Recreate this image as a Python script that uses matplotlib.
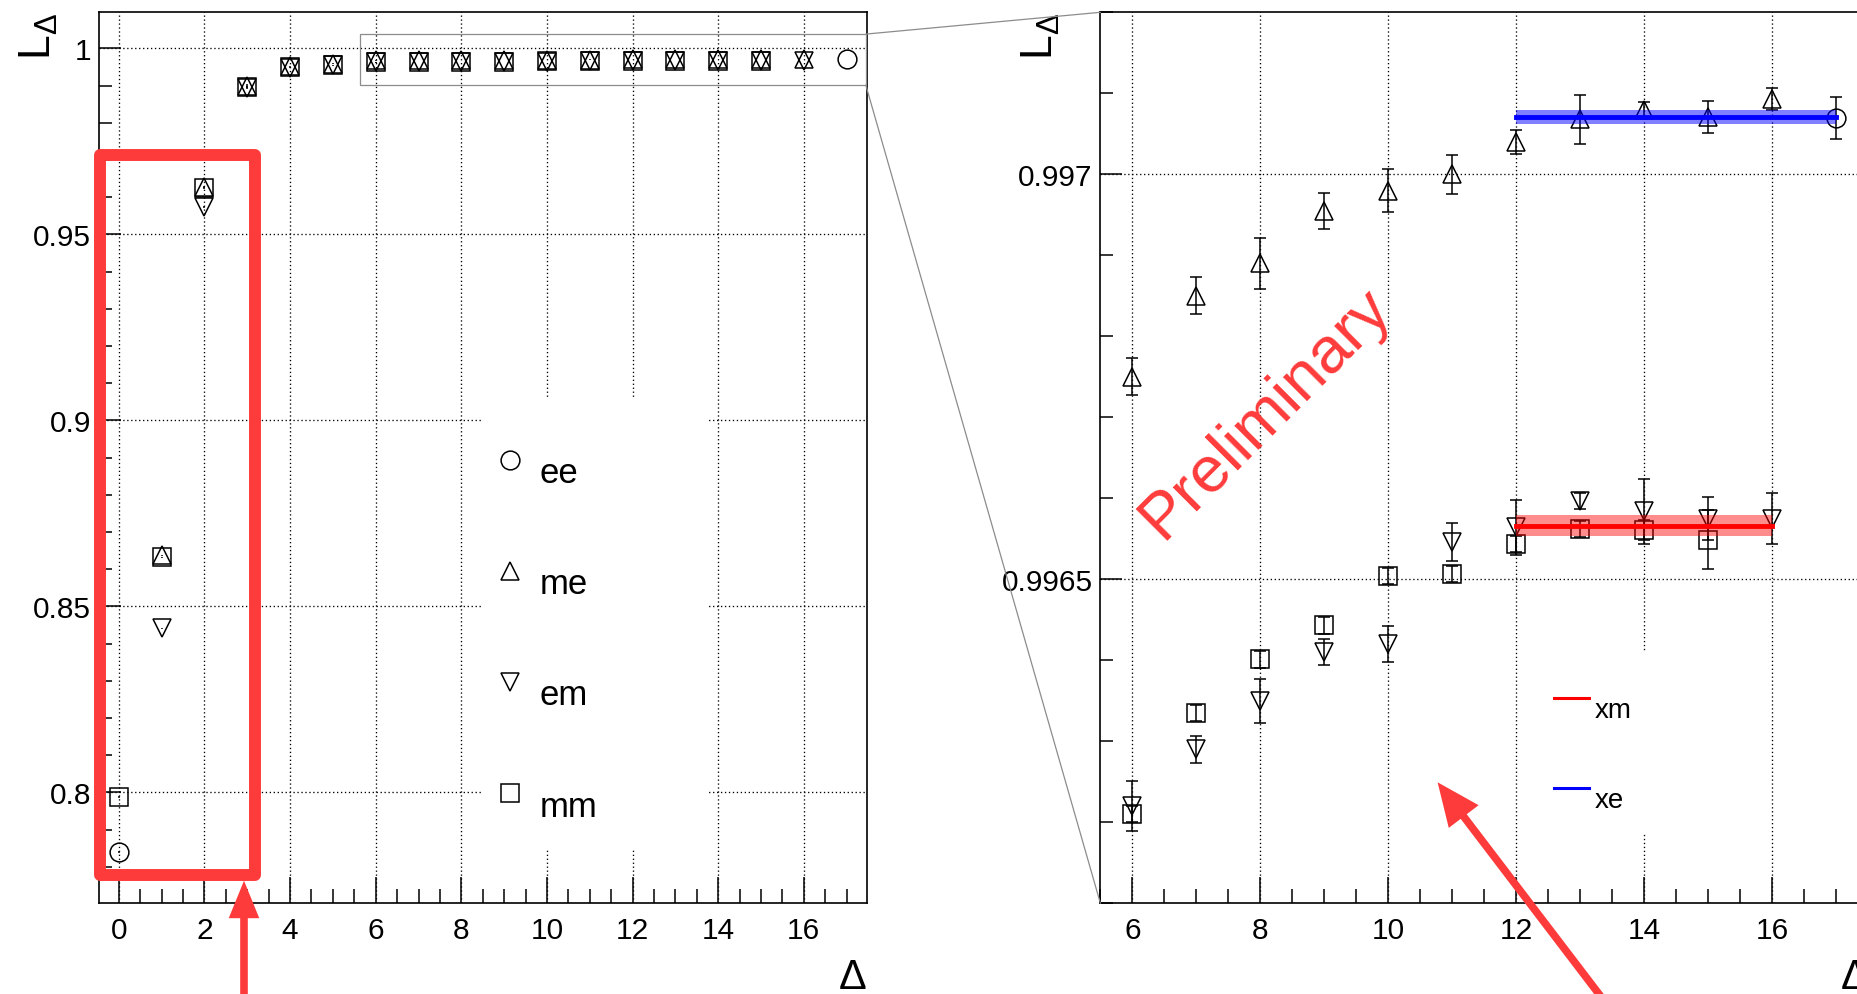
import numpy as np
import matplotlib.pyplot as plt
from matplotlib.ticker import MultipleLocator, FuncFormatter
from matplotlib.patches import Rectangle, ConnectionPatch, FancyArrowPatch
from matplotlib.lines import Line2D

plt.rcParams["font.family"] = ["Liberation Sans", "DejaVu Sans"]
plt.rcParams["mathtext.fontset"] = "custom"
plt.rcParams["mathtext.rm"] = "Liberation Sans"
plt.rcParams["mathtext.it"] = "Liberation Sans:italic"

# L_Delta versus Delta for the four channels
ee_x = [0, 17]
ee_y = [0.7840, 0.99707]
ee_err = [0.0002, 0.000026]

me_x = list(range(1, 17))
me_y = [0.8637, 0.9628, 0.9900, 0.9952, 0.9959, 0.99675, 0.99685, 0.99689,
        0.996955, 0.99698, 0.99700, 0.99704, 0.997068, 0.997079, 0.997071, 0.997093]
me_err = [0.0002, 0.0003, 0.0003, 0.0001, 0.00005, 0.000023, 0.000023, 0.000031,
          0.000022, 0.000026, 0.000024, 0.000015, 0.000030, 0.000010, 0.000020, 0.000013]

em_x = list(range(1, 17))
em_y = [0.8441, 0.9573, 0.9893, 0.9948, 0.9954, 0.99622, 0.99629, 0.99635,
        0.99641, 0.99642, 0.996546, 0.996564, 0.996597, 0.996584, 0.996575, 0.996575]
em_err = [0.0002, 0.0003, 0.0003, 0.0001, 0.00005, 0.000031, 0.000017, 0.000027,
          0.000016, 0.000022, 0.000023, 0.000034, 0.000010, 0.000040, 0.000026, 0.000031]

mm_x = list(range(0, 16))
mm_y = [0.7988, 0.8632, 0.9625, 0.9897, 0.9950, 0.9956, 0.99621, 0.996335,
        0.996401, 0.996443, 0.996504, 0.996507, 0.996544, 0.996562, 0.996561, 0.996549]
mm_err = [0.0002, 0.0002, 0.0003, 0.0003, 0.0001, 0.00005, 0.000010, 0.000010,
          0.000010, 0.000010, 0.000010, 0.000010, 0.000010, 0.000010, 0.000012, 0.000036]

labels = ["ee", "me", "em", "mm"]

# constant fits on the plateau
xm_range = [12, 16]
xm_val = 0.996566
xm_err = 0.0000128
xe_range = [12, 17]
xe_val = 0.997071
xe_err = 0.0000086

RED = "#fe3b3b"
W, H = 1857, 995

fig = plt.figure(figsize=(W / 100, H / 100), dpi=100)
ax1 = fig.add_axes([98.7 / W, 90.7 / H, 768.1 / W, 891 / H])
ax2 = fig.add_axes([1100.4 / W, 90.7 / H, 768.1 / W, 891 / H])


def draw_series(ax, cap):
    handles = []
    series = [(ee_x, ee_y, ee_err, "o"), (me_x, me_y, me_err, "^"),
              (em_x, em_y, em_err, "v"), (mm_x, mm_y, mm_err, "s")]
    for xs, ys, es, m in series:
        c = ax.errorbar(xs, ys, yerr=es, fmt=m, ms=13.5, mfc="none", mec="black",
                        mew=1.1, ecolor="black", elinewidth=1.1, capsize=cap,
                        capthick=1.1, zorder=3)
        handles.append(c[0])
    return handles


def style_axes(ax, xlim, ylim, ymajor, yminor):
    ax.set_xlim(*xlim)
    ax.set_ylim(*ylim)
    ax.xaxis.set_major_locator(MultipleLocator(2))
    ax.xaxis.set_minor_locator(MultipleLocator(0.5))
    ax.yaxis.set_major_locator(MultipleLocator(ymajor))
    ax.yaxis.set_minor_locator(MultipleLocator(yminor))
    ax.yaxis.set_major_formatter(FuncFormatter(lambda v, p: f"{v:g}"))
    ax.tick_params(which="both", direction="in", top=False, right=False,
                   width=1.1, labelsize=21.5)
    ax.tick_params(axis="x", which="major", length=18.5, pad=9.5)
    ax.tick_params(axis="x", which="minor", length=10)
    ax.tick_params(axis="y", which="major", length=16, pad=5.5)
    ax.tick_params(axis="y", which="minor", length=9)
    for s in ax.spines.values():
        s.set_linewidth(1.2)
    ax.grid(which="major", color="black", linestyle=(0, (1, 2)), linewidth=0.95)
    ax.set_xlabel("Δ", fontsize=30, loc="right")
    ax.xaxis.set_label_coords(1.0, -0.060)
    ax.set_ylabel(r"L$_{\Delta}$", fontsize=32, loc="top")
    ax.yaxis.set_label_coords(-0.050, 1.0)


# left: full range
handles = draw_series(ax1, 0)
style_axes(ax1, (-0.47, 17.47), (0.7702, 1.0097), 0.05, 0.01)
ax1.add_patch(Rectangle((0.499, 0.061), 0.293, 0.505, transform=ax1.transAxes,
                        facecolor="white", edgecolor="none", zorder=1.8))
leg = ax1.legend(handles, labels, loc="upper left", bbox_to_anchor=(0.5175, 0.513),
                 frameon=False, fontsize=25, handlelength=0.8, handletextpad=0.46,
                 labelspacing=2.25, borderpad=0, borderaxespad=0)
for t in leg.get_texts():
    t.set_y(-10)

# right: plateau region with fits
draw_series(ax2, 4.5)
style_axes(ax2, (5.5, 17.5), (0.9961, 0.9972), 0.0005, 0.0001)
ax2.fill_between(xm_range, xm_val - xm_err, xm_val + xm_err, color="red",
                 alpha=0.45, lw=0, zorder=4)
ax2.plot(xm_range, [xm_val, xm_val], color="red", lw=3.5, zorder=4.1)
ax2.fill_between(xe_range, xe_val - xe_err, xe_val + xe_err, color="blue",
                 alpha=0.5, lw=0, zorder=4)
ax2.plot(xe_range, [xe_val, xe_val], color="blue", lw=3.5, zorder=4.1)
ax2.add_patch(Rectangle((0.566, 0.078), 0.221, 0.204, transform=ax2.transAxes,
                        facecolor="white", edgecolor="none", zorder=1.8))
fit_handles = [Line2D([], [], color="red", lw=2.2), Line2D([], [], color="blue", lw=2.2)]
leg2 = ax2.legend(fit_handles, ["xm", "xe"], loc="upper left",
                  bbox_to_anchor=(0.591, 0.242), frameon=False, fontsize=20,
                  handlelength=1.24, handletextpad=0.2, labelspacing=2.3,
                  borderpad=0, borderaxespad=0)
for t in leg2.get_texts():
    t.set_y(-9)
ax2.text(8.08, 0.996706, "Preliminary", rotation=45, color=RED, fontsize=47,
         ha="center", va="center", zorder=6)

# zoom box and connectors
bx0, bx1, by0, by1 = 5.634, 17.447, 0.99013, 1.00384
ax1.add_patch(Rectangle((bx0, by0), bx1 - bx0, by1 - by0, fill=False,
                        edgecolor="#8c8c8c", lw=0.9, zorder=4))
for yA, yB in [(by1, 1), (by0, 0)]:
    con = ConnectionPatch(xyA=(bx1, yA), coordsA=ax1.transData, xyB=(0, yB),
                          coordsB=ax2.transAxes, color="#8c8c8c", lw=0.9)
    fig.add_artist(con)

# highlight box and arrows
fig.add_artist(Rectangle((100 / W, (H - 875.5) / H), 154.7 / W, 719.5 / H,
                         transform=fig.transFigure, fill=False, edgecolor=RED,
                         lw=8.6, joinstyle="round", zorder=10))
fig.add_artist(FancyArrowPatch((244 / W, -8 / H), (244 / W, (H - 881.7) / H),
                               transform=fig.transFigure, mutation_scale=1,
                               arrowstyle="simple,head_length=27,head_width=22,tail_width=5.5",
                               color=RED, lw=0, shrinkA=0, shrinkB=0, zorder=10))
fig.add_artist(FancyArrowPatch((1605 / W, -8 / H), (1437.6 / W, (H - 783.3) / H),
                               transform=fig.transFigure, mutation_scale=1,
                               arrowstyle="simple,head_length=31,head_width=27,tail_width=5.5",
                               color=RED, lw=0, shrinkA=0, shrinkB=0, zorder=10))

fig.savefig("out.png", dpi=100)
